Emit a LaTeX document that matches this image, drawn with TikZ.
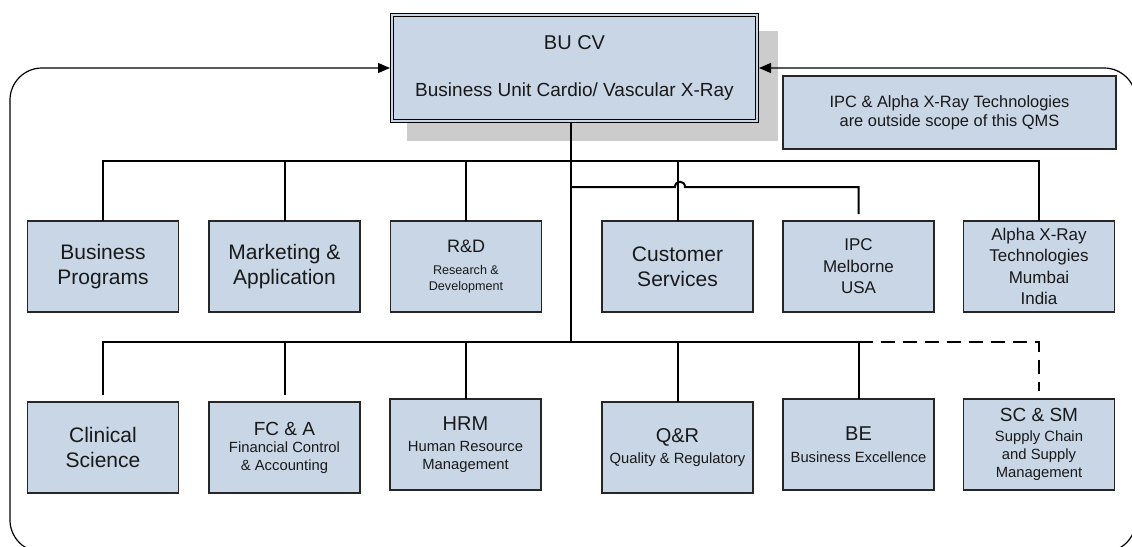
\documentclass[tikz,border=0pt]{standalone}
\usepackage{fontspec}
\setmainfont{Liberation Sans}
\usetikzlibrary{arrows.meta}
\newcommand\myfs[2]{\fontsize{#1pt}{#2pt}\selectfont}
\definecolor{boxfill}{RGB}{200,214,230}
\definecolor{shadowgray}{RGB}{204,204,204}
\definecolor{txt}{RGB}{25,25,25}
\begin{document}
\begin{tikzpicture}[x=1pt,y=-1pt,
 unit/.style={draw=black!85, line width=1.2pt, fill=boxfill, minimum width=151pt, minimum height=91pt, inner sep=0pt, outer sep=0pt, align=center, text=txt},
 big/.style={unit, font=\myfs{21}{25}},
 mid/.style={unit, font=\myfs{17}{21.5}},
 sub/.style={unit, font=\myfs{14.8}{18}},
 conn/.style={line width=2pt, black},
 loopline/.style={line width=1.2pt, black, rounded corners=32pt, -{Triangle[length=12pt,width=10pt]}},
]
\useasboundingbox (0,0) rectangle (1132,546);
\fill[shadowgray] (407,31) rectangle (778,141);
\node[unit, minimum width=365pt, minimum height=106pt, draw=black, line width=1pt, double=boxfill, double distance=2pt, outer sep=2pt, font=\myfs{19}{22}] (bucv) at (574.5,68) {{\myfs{20}{22}BU CV}\\[25pt]Business Unit Cardio/ Vascular X-Ray};
\node[unit, minimum width=333pt, minimum height=73pt, font=\myfs{16.4}{19}] (note) at (949.5,112.5) {IPC \& Alpha X-Ray Technologies\\are outside scope of this QMS};

% row 1
\node[big] (bp) at (103,266.5) {Business\\Programs};
\node[big] (mk) at (284.5,266.5) {Marketing \&\\Application};
\node[unit, font=\myfs{12.6}{16}] (rd) at (466,266.5) {{\myfs{18}{20}R\&D}\\[6pt]Research \&\\Development};
\node[big] (cs) at (677.5,266.5) {Customer\\Services};
\node[mid] (ipc) at (858.5,266.5) {IPC\\Melborne\\USA};
\node[mid] (alpha) at (1039,266.5) {Alpha X-Ray\\Technologies\\Mumbai\\India};

% row 2
\node[big] (cl) at (103,447.5) {Clinical\\Science};
\node[sub] (fc) at (284.5,447.5) {{\myfs{19}{22}FC \& A}\\[-1pt]Financial Control\\\& Accounting};
\node[sub] (hrm) at (465.5,444.5) {{\myfs{20}{22}HRM}\\[3pt]Human Resource\\Management};
\node[sub] (qr) at (677.5,447.5) {{\myfs{20}{22}Q\&R}\\[3pt]Quality \& Regulatory};
\node[sub] (be) at (858.5,444.5) {{\myfs{20}{22}BE}\\[4pt]Business Excellence};
\node[sub] (sc) at (1039,444.5) {{\myfs{19}{22}SC \& SM}\\[2pt]Supply Chain\\and Supply\\Management};

% connectors
\coordinate (bus1) at (571,161);
\coordinate (j2) at (571,187);
\coordinate (bus2) at (571,342);
\draw[conn] ([xshift=-3.5pt]bucv.south) -- (bus2);
\draw[conn] (bp.north) |- (bus1) -| (alpha.north);
\foreach \n in {mk,rd,cs} \draw[conn] (\n.north) -- (\n.north |- bus1);
\draw[conn, shorten >=7pt] (j2) -- (675,187) .. controls (675,180) and (685,180) .. (685,187) -- (ipc.north |- j2) -- (ipc.north);
\draw[conn, shorten <=7pt] (cl.north) |- (bus2) -| (be.north);
\draw[conn, shorten >=7pt] (bus2 -| fc.north) -- (fc.north);
\draw[conn] (bus2 -| hrm.north) -- (hrm.north);
\draw[conn] (bus2 -| qr.north) -- (qr.north);
\draw[conn, dash pattern=on 14pt off 8pt, shorten >=8pt] (bus2 -| be.north) -| (sc.north);

% feedback loop
\begin{scope}
\clip (0,0) rectangle (1132,546);
\draw[loopline] (571,552) -| (10,68) -- (bucv.west);
\draw[loopline] (571,552) -| (1136,68) -- (bucv.east);
\end{scope}
\end{tikzpicture}
\end{document}
